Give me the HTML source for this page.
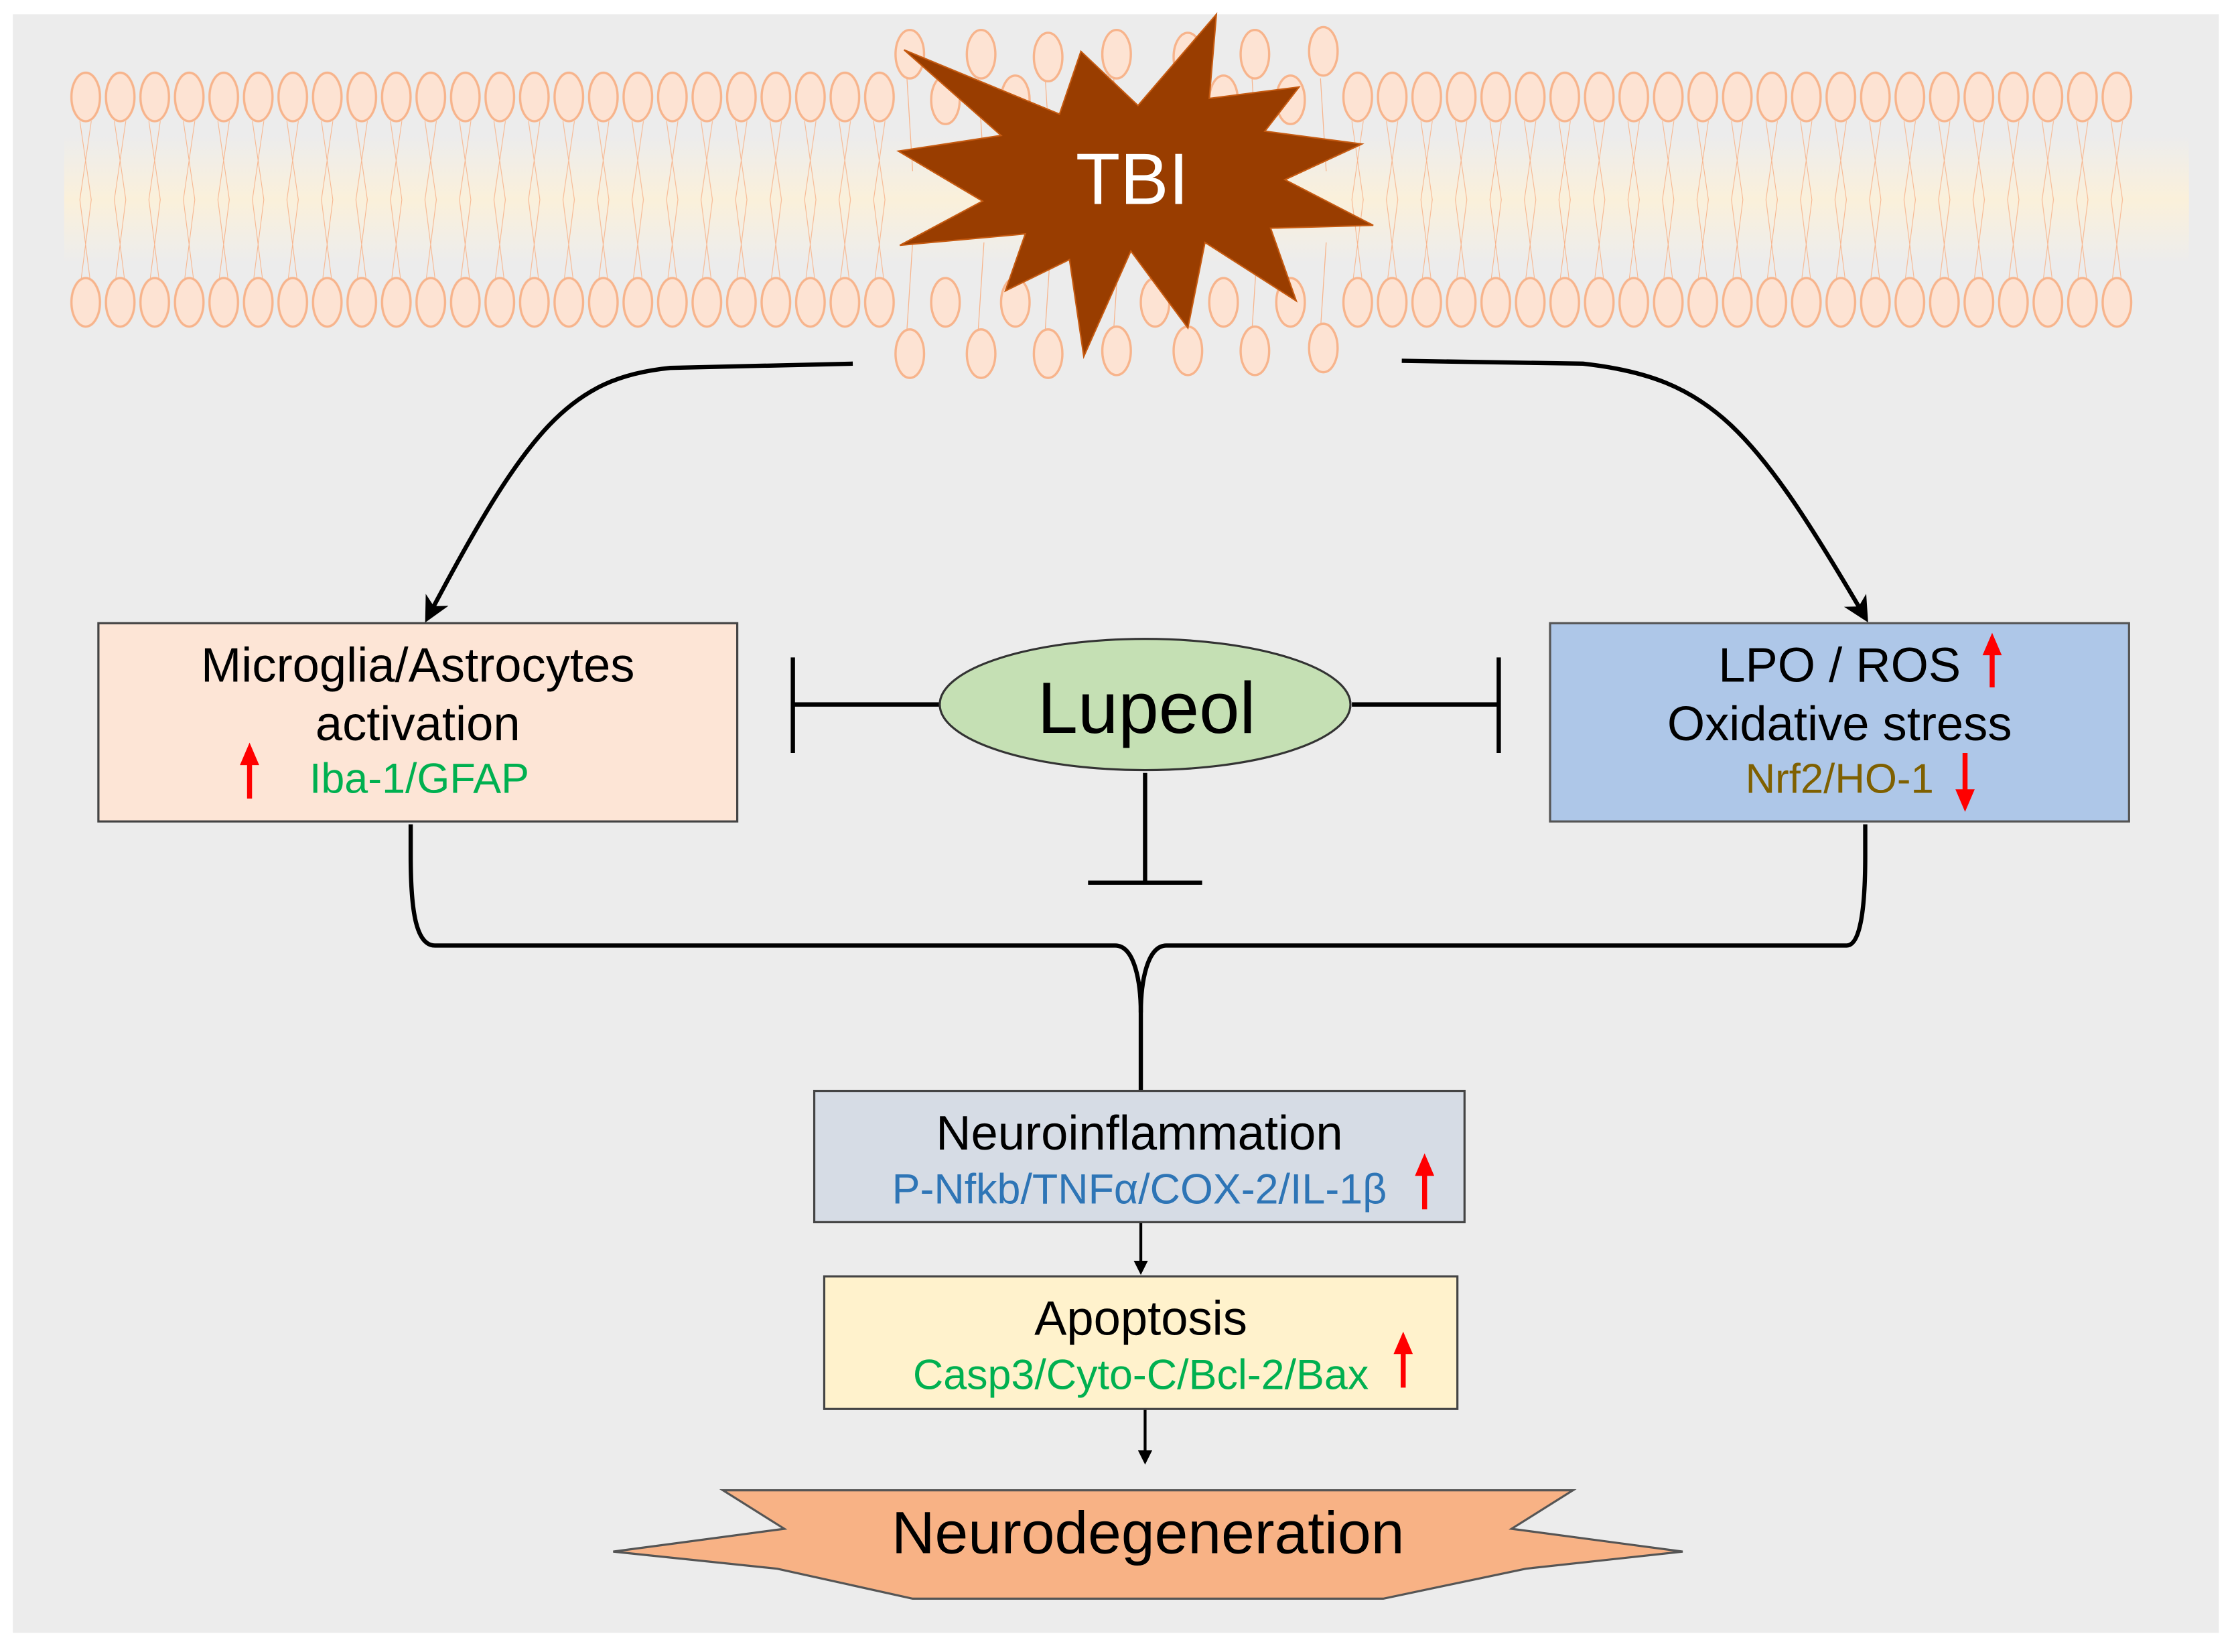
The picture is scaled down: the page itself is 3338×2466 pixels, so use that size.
<!DOCTYPE html>
<html><head><meta charset="utf-8"><style>
html,body{margin:0;padding:0;background:#fff}
svg{display:block}
text{font-family:"Liberation Sans",Arial,sans-serif}
</style></head><body>
<svg width="3338" height="2466" viewBox="0 0 1568 1158.4" preserveAspectRatio="none" xmlns="http://www.w3.org/2000/svg">
<defs>
<linearGradient id="band" x1="0" y1="0" x2="0" y2="1">
<stop offset="0" stop-color="#fdf3dc" stop-opacity="0"/>
<stop offset="0.5" stop-color="#fcf0d8" stop-opacity="0.9"/>
<stop offset="1" stop-color="#fdf3dc" stop-opacity="0"/>
</linearGradient>
<pattern id="lip" x="48" y="0" width="24.2" height="300" patternUnits="userSpaceOnUse">
<g stroke="#f7b48c" fill="#fde3d3">
<path d="M8,85 L16,140 L9,195 M16,85 L8,140 L15,195" fill="none" stroke-width="0.5"/>
<ellipse cx="12.1" cy="68" rx="10" ry="17" stroke-width="1.6"/>
<ellipse cx="12.1" cy="212" rx="10" ry="17" stroke-width="1.6"/>
</g>
</pattern>
<pattern id="lip2" x="940" y="0" width="24.2" height="300" patternUnits="userSpaceOnUse">
<g stroke="#f7b48c" fill="#fde3d3">
<path d="M8,85 L16,140 L9,195 M16,85 L8,140 L15,195" fill="none" stroke-width="0.5"/>
<ellipse cx="12.1" cy="68" rx="10" ry="17" stroke-width="1.6"/>
<ellipse cx="12.1" cy="212" rx="10" ry="17" stroke-width="1.6"/>
</g>
</pattern>
<marker id="ah" markerWidth="10" markerHeight="10" refX="8" refY="5" orient="auto" markerUnits="userSpaceOnUse">
<path d="M0,0 L10,5 L0,10 z" fill="#000"/>
</marker>
<marker id="ahb" markerWidth="18" markerHeight="18" refX="14" refY="9" orient="auto" markerUnits="userSpaceOnUse">
<path d="M0,0 L18,9 L0,18 L5,9 z" fill="#000"/>
</marker>
</defs>
<rect x="9" y="10" width="1547" height="1135" fill="#ececec"/>
<rect x="45" y="95" width="1490" height="90" fill="url(#band)"/>
<rect x="48" y="40" width="580" height="200" fill="url(#lip)"/>
<rect x="940" y="40" width="556" height="200" fill="url(#lip2)"/>
<g stroke="#f7b48c" fill="#fde3d3" stroke-width="1.6">
<g fill="none" stroke-width="0.6">
<path d="M636,55 L640,120 M686,55 L690,120 M733,55 L737,120 M781,55 L785,120 M831,55 L835,120 M878,55 L882,120 M926,55 L930,120"/>
<path d="M636,231 L640,170 M686,231 L690,170 M733,231 L737,170 M781,231 L785,170 M831,231 L835,170 M878,231 L882,170 M926,231 L930,170"/>
</g>
<ellipse cx="638" cy="38" rx="10" ry="17"/><ellipse cx="688" cy="38" rx="10" ry="17"/><ellipse cx="735" cy="40" rx="10" ry="17"/><ellipse cx="783" cy="38" rx="10" ry="17"/><ellipse cx="833" cy="40" rx="10" ry="17"/><ellipse cx="880" cy="38" rx="10" ry="17"/><ellipse cx="928" cy="36" rx="10" ry="17"/>
<ellipse cx="663" cy="70" rx="10" ry="17"/><ellipse cx="712" cy="70" rx="10" ry="17"/><ellipse cx="858" cy="70" rx="10" ry="17"/><ellipse cx="905" cy="70" rx="10" ry="17"/>
<ellipse cx="663" cy="212" rx="10" ry="17"/><ellipse cx="712" cy="212" rx="10" ry="17"/><ellipse cx="810" cy="212" rx="10" ry="17"/><ellipse cx="858" cy="212" rx="10" ry="17"/><ellipse cx="905" cy="212" rx="10" ry="17"/>
<ellipse cx="638" cy="248" rx="10" ry="17"/><ellipse cx="688" cy="248" rx="10" ry="17"/><ellipse cx="735" cy="248" rx="10" ry="17"/><ellipse cx="783" cy="246" rx="10" ry="17"/><ellipse cx="833" cy="246" rx="10" ry="17"/><ellipse cx="880" cy="246" rx="10" ry="17"/><ellipse cx="928" cy="244" rx="10" ry="17"/>
</g>
<polygon points="634,35 743,80 758,36 798,74 853,10 848,69 911,61 887,92 955,101 901,126 963,158 891,160 909,211 845,170 833,230 793,176 760,250 750,182 705,204 719,164 631,172 689,141 630,106 702,95" fill="#993d00" stroke="#c55a11" stroke-width="1"/>
<text x="794" y="143" font-size="51" fill="#fff" text-anchor="middle">TBI</text>

<g fill="none" stroke="#000" stroke-width="3">
<path d="M598,255 L470,258 C400,265 370,300 300,433" marker-end="url(#ahb)"/>
<path d="M983,253 L1110,255 C1200,265 1230,300 1308,433" marker-end="url(#ahb)"/>
<path d="M288,578 L288,600 C288,640 292,663 305,663 L782,663 C796,663 800,690 800,710 L800,765"/>
<path d="M1308,578 L1308,600 C1308,640 1304,663 1295,663 L818,663 C804,663 800,690 800,710"/>
<path d="M660,494 L556,494 M556,461 L556,528"/>
<path d="M948,494 L1051,494 M1051,461 L1051,528"/>
<path d="M803,542 L803,619 M763,619 L843,619"/>
</g>
<g stroke="#000" stroke-width="2" fill="none">
<path d="M800,857 L800,892" marker-end="url(#ah)"/>
<path d="M803,988 L803,1025" marker-end="url(#ah)"/>
</g>

<rect x="69" y="437" width="448" height="139" fill="#fde5d6" stroke="#444" stroke-width="1.5"/>
<text x="293" y="478" font-size="34" text-anchor="middle" fill="#000">Microglia/Astrocytes</text>
<text x="293" y="519" font-size="34" text-anchor="middle" fill="#000">activation</text>
<text x="217" y="556" font-size="29.5" fill="#00b050">Iba-1/GFAP</text>

<rect x="1087" y="437" width="406" height="139" fill="#aec7e8" stroke="#555" stroke-width="1.5"/>
<text x="1290" y="478" font-size="34" text-anchor="middle" fill="#000">LPO / ROS</text>
<text x="1290" y="519" font-size="34" text-anchor="middle" fill="#000">Oxidative stress</text>
<text x="1290" y="556" font-size="29" text-anchor="middle" fill="#7f6000">Nrf2/HO-1</text>

<ellipse cx="803" cy="494" rx="144" ry="46" fill="#c5e0b4" stroke="#333" stroke-width="1.5"/>
<text x="804" y="514" font-size="51" text-anchor="middle" fill="#000">Lupeol</text>

<rect x="571" y="765" width="456" height="92" fill="#d6dce5" stroke="#444" stroke-width="1.5"/>
<text x="799" y="806" font-size="34" text-anchor="middle" fill="#000">Neuroinflammation</text>
<text x="799" y="844" font-size="29.5" text-anchor="middle" fill="#2e75b6">P-Nfkb/TNFα/COX-2/IL-1β</text>

<rect x="578" y="895" width="444" height="93" fill="#fff2cc" stroke="#444" stroke-width="1.5"/>
<text x="800" y="936" font-size="34" text-anchor="middle" fill="#000">Apoptosis</text>
<text x="800" y="974" font-size="29.5" text-anchor="middle" fill="#00b050">Casp3/Cyto-C/Bcl-2/Bax</text>

<polygon points="430,1088 550,1072 507,1045 1103,1045 1060,1072 1180,1088 1070,1100 970,1121 640,1121 545,1100" fill="#f8b285" stroke="#555" stroke-width="1.5"/>
<text x="805" y="1089" font-size="42" text-anchor="middle" fill="#000">Neurodegeneration</text>

<g stroke="#ff0000" stroke-width="3.5" fill="#ff0000">
<path d="M175,560 L175,534"/><path d="M169,536 L175,522 L181,536 z" stroke-width="1"/>
<path d="M1397,482 L1397,457"/><path d="M1391,459 L1397,445 L1403,459 z" stroke-width="1"/>
<path d="M1378,528 L1378,556"/><path d="M1372,554 L1378,568 L1384,554 z" stroke-width="1"/>
<path d="M999,848 L999,822"/><path d="M993,824 L999,810 L1005,824 z" stroke-width="1"/>
<path d="M984,973 L984,947"/><path d="M978,949 L984,935 L990,949 z" stroke-width="1"/>
</g>
</svg>
</body></html>
